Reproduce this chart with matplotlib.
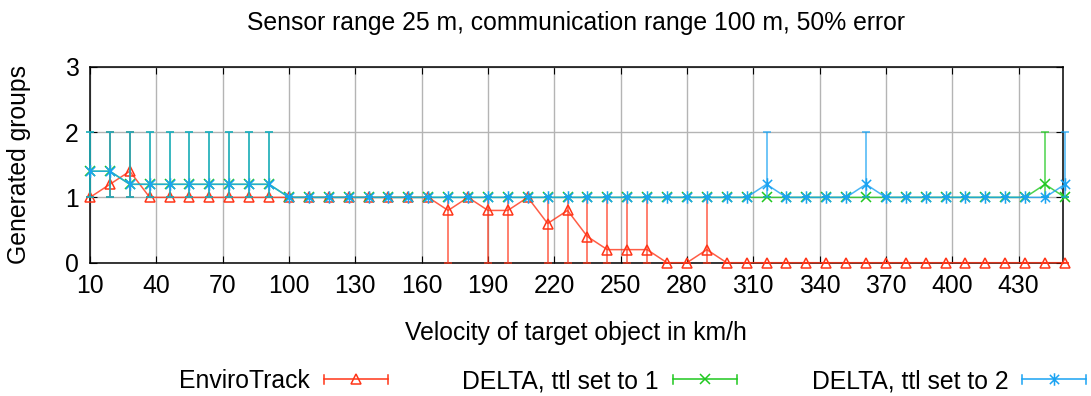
import matplotlib
matplotlib.use("Agg")
import matplotlib.pyplot as plt
from matplotlib.lines import Line2D
from matplotlib.path import Path
from matplotlib.legend_handler import HandlerBase

# velocity of the target object (km/h), one run every 9 km/h
velocity = [10, 19, 28, 37, 46, 55, 64, 73, 82, 91,
            100, 109, 118, 127, 136, 145, 154, 163, 172, 181,
            190, 199, 208, 217, 226, 235, 244, 253, 262, 271,
            280, 289, 298, 307, 316, 325, 334, 343, 352, 361,
            370, 379, 388, 397, 406, 415, 424, 433, 442, 451]

# EnviroTrack: mean, min, max generated groups
enviro = [1.0, 1.2, 1.4, 1.0, 1.0, 1.0, 1.0, 1.0, 1.0, 1.0,
          1.0, 1.0, 1.0, 1.0, 1.0, 1.0, 1.0, 1.0, 0.8, 1.0,
          0.8, 0.8, 1.0, 0.6, 0.8, 0.4, 0.2, 0.2, 0.2, 0.0,
          0.0, 0.2, 0.0, 0.0, 0.0, 0.0, 0.0, 0.0, 0.0, 0.0,
          0.0, 0.0, 0.0, 0.0, 0.0, 0.0, 0.0, 0.0, 0.0, 0.0]
enviro_lo = [1, 1, 1, 1, 1, 1, 1, 1, 1, 1,
             1, 1, 1, 1, 1, 1, 1, 1, 0, 1,
             0, 0, 1, 0, 0, 0, 0, 0, 0, 0,
             0, 0, 0, 0, 0, 0, 0, 0, 0, 0,
             0, 0, 0, 0, 0, 0, 0, 0, 0, 0]
enviro_hi = [1, 2, 2, 1, 1, 1, 1, 1, 1, 1,
             1, 1, 1, 1, 1, 1, 1, 1, 1, 1,
             1, 1, 1, 1, 1, 1, 1, 1, 1, 0,
             0, 1, 0, 0, 0, 0, 0, 0, 0, 0,
             0, 0, 0, 0, 0, 0, 0, 0, 0, 0]

# DELTA, ttl set to 1
delta1 = [1.4, 1.4, 1.2, 1.2, 1.2, 1.2, 1.2, 1.2, 1.2, 1.2,
          1.0, 1.0, 1.0, 1.0, 1.0, 1.0, 1.0, 1.0, 1.0, 1.0,
          1.0, 1.0, 1.0, 1.0, 1.0, 1.0, 1.0, 1.0, 1.0, 1.0,
          1.0, 1.0, 1.0, 1.0, 1.0, 1.0, 1.0, 1.0, 1.0, 1.0,
          1.0, 1.0, 1.0, 1.0, 1.0, 1.0, 1.0, 1.0, 1.2, 1.0]
delta1_lo = [1] * 10 + [1] * 40
delta1_hi = [2, 2, 2, 2, 2, 2, 2, 2, 2, 2,
             1, 1, 1, 1, 1, 1, 1, 1, 1, 1,
             1, 1, 1, 1, 1, 1, 1, 1, 1, 1,
             1, 1, 1, 1, 1, 1, 1, 1, 1, 1,
             1, 1, 1, 1, 1, 1, 1, 1, 2, 1]

# DELTA, ttl set to 2
delta2 = [1.4, 1.4, 1.2, 1.2, 1.2, 1.2, 1.2, 1.2, 1.2, 1.2,
          1.0, 1.0, 1.0, 1.0, 1.0, 1.0, 1.0, 1.0, 1.0, 1.0,
          1.0, 1.0, 1.0, 1.0, 1.0, 1.0, 1.0, 1.0, 1.0, 1.0,
          1.0, 1.0, 1.0, 1.0, 1.2, 1.0, 1.0, 1.0, 1.0, 1.2,
          1.0, 1.0, 1.0, 1.0, 1.0, 1.0, 1.0, 1.0, 1.0, 1.2]
delta2_lo = [1] * 10 + [1] * 40
delta2_hi = [2, 2, 2, 2, 2, 2, 2, 2, 2, 2,
             1, 1, 1, 1, 1, 1, 1, 1, 1, 1,
             1, 1, 1, 1, 1, 1, 1, 1, 1, 1,
             1, 1, 1, 1, 2, 1, 1, 1, 1, 2,
             1, 1, 1, 1, 1, 1, 1, 1, 1, 2]

x_ticks = [10, 40, 70, 100, 130, 160, 190, 220, 250, 280, 310, 340, 370, 400, 430]
y_ticks = [0, 1, 2, 3]

RED = "#ff3518"
GREEN = "#1fc81f"
BLUE = "#1aa3f2"

# gnuplot style asterisk: an x with a vertical stroke through it
ASTER = Path([(-1, -1), (1, 1), (-1, 1), (1, -1), (0, -1.35), (0, 1.35)],
             [Path.MOVETO, Path.LINETO, Path.MOVETO, Path.LINETO, Path.MOVETO, Path.LINETO])

plt.rcParams["font.family"] = ["Liberation Sans", "DejaVu Sans"]
plt.rcParams["font.size"] = 17.8

fig = plt.figure(figsize=(10.91, 3.96), dpi=100)
ax = fig.add_axes([0.0825, 0.3366, 0.8916, 0.495])


def draw(y, lo, hi, color, marker, ms, z):
    err = [[v - l for v, l in zip(y, lo)], [h - v for v, h in zip(y, hi)]]
    ax.errorbar(velocity, y, yerr=err, fmt="none", ecolor=color, elinewidth=1.1,
                capsize=3, capthick=1.1, alpha=0.8, zorder=z, clip_on=False)
    ax.plot(velocity, y, color=color, lw=1.1, alpha=0.8, zorder=z, clip_on=False)
    ax.plot(velocity, y, ls="none", marker=marker, ms=ms, mec=color, mfc="none",
            mew=1.1, zorder=z + 0.5, clip_on=False)


draw(enviro, enviro_lo, enviro_hi, RED, "^", 7.5, 3)
draw(delta1, delta1_lo, delta1_hi, GREEN, "x", 7, 4)
draw(delta2, delta2_lo, delta2_hi, BLUE, ASTER, 9, 5)

ax.set_xlim(10, 450)
ax.set_ylim(0, 3)
ax.set_xticks(x_ticks)
ax.set_yticks(y_ticks)
ax.grid(True, color="#b4b4b4", lw=1)
ax.set_axisbelow(True)
ax.tick_params(direction="in", length=5, top=True, right=True, pad=8)
for s in ax.spines.values():
    s.set_linewidth(1.1)

ax.set_xlabel("Velocity of target object in km/h", va="center")
ax.xaxis.set_label_coords(0.5, -0.36)
ax.set_ylabel("Generated groups", va="center")
ax.yaxis.set_label_coords(-0.073, 0.5)
ax.text(0.5, 1.225, "Sensor range 25 m, communication range 100 m, 50% error",
        transform=ax.transAxes, ha="center", va="center")


class CapHandler(HandlerBase):
    # line with error bar caps at both ends and the marker in the middle
    def create_artists(self, legend, orig, xd, yd, width, height, fontsize, trans):
        c = orig.get_color()
        y = height / 2 - yd
        x0, x1 = -xd, -xd + width
        arts = [Line2D([x0, x1], [y, y], color=c, lw=1.1),
                Line2D([x0, x0], [y - 3, y + 3], color=c, lw=1.1),
                Line2D([x1, x1], [y - 3, y + 3], color=c, lw=1.1),
                Line2D([(x0 + x1) / 2], [y], ls="none", marker=orig.get_marker(),
                       ms=orig.get_markersize(), mec=c, mfc="none", mew=1.1)]
        for a in arts:
            a.set_transform(trans)
        return arts


entries = [("EnviroTrack", RED, "^", 7, 388),
           ("DELTA, ttl set to 1", GREEN, "x", 7, 737),
           ("DELTA, ttl set to 2", BLUE, ASTER, 9, 1086)]
for label, color, marker, ms, xr in entries:
    h = Line2D([], [], color=color, marker=marker, ms=ms)
    fig.legend([h], [label], handler_map={Line2D: CapHandler()}, loc="center right",
               bbox_to_anchor=(xr / 1091, 1 - 381 / 396), frameon=False,
               markerfirst=False, handlelength=2.6, handletextpad=0.55,
               borderpad=0, borderaxespad=0)

fig.savefig("out.png", dpi=100)
